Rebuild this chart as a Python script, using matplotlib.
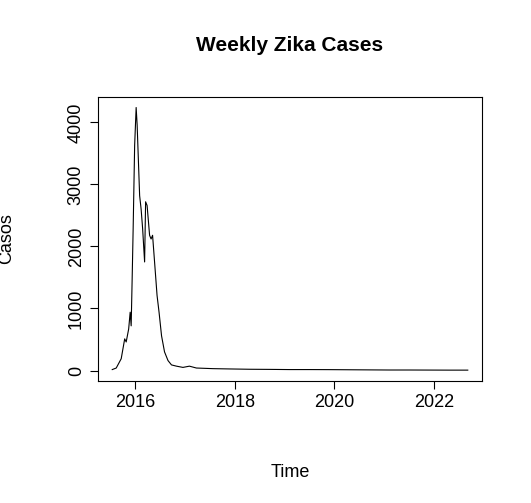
import numpy as np
import matplotlib.pyplot as plt

plt.rcParams['font.family'] = ['Liberation Sans', 'DejaVu Sans']

# readings from the reference: decimal year vs weekly cases
years = [2015.54, 2015.62, 2015.72, 2015.79, 2015.82, 2015.87, 2015.90, 2015.92,
         2015.94, 2015.96, 2015.99, 2016.02, 2016.04, 2016.09, 2016.12, 2016.15,
         2016.19, 2016.21, 2016.24, 2016.29, 2016.32, 2016.35, 2016.39, 2016.44,
         2016.48, 2016.53, 2016.59, 2016.66, 2016.73, 2016.83, 2016.96, 2017.09,
         2017.23, 2017.56, 2017.9, 2018.3, 2018.7, 2019.1, 2019.5, 2019.9,
         2020.3, 2020.7, 2021.1, 2021.5, 2021.9, 2022.3, 2022.68]
cases = [15, 40, 190, 510, 460, 670, 940, 720,
         1480, 2290, 3630, 4240, 3960, 2820, 2600, 2290,
         1750, 2720, 2660, 2180, 2120, 2180, 1750, 1210,
         940, 560, 300, 160, 90, 70, 50, 70,
         40, 30, 25, 20, 18, 15, 15, 14,
         12, 10, 8, 8, 7, 6, 6]

fig = plt.figure(figsize=(5.31, 5.03), dpi=100)
ax = fig.add_axes([0.1846, 0.2425, 0.7231, 0.5647])
ax.plot(years, cases, color='black', linewidth=0.8)

span = years[-1] - years[0]
ax.set_xlim(years[0] - 0.04 * span, years[-1] + 0.04 * span)
ax.set_ylim(-0.04 * max(cases), 1.04 * max(cases))
ax.set_xticks([2016, 2018, 2020, 2022])
ax.set_yticks([0, 1000, 2000, 3000, 4000])
ax.tick_params(labelsize=13, length=6)
for lab in ax.get_yticklabels():
    lab.set_rotation(90)
    lab.set_va('center')
ax.set_title("Weekly Zika Cases", fontsize=15, fontweight='bold', pad=33)
ax.set_xlabel("Time", fontsize=13, labelpad=38)
ax.set_ylabel("Casos", fontsize=13, labelpad=38)

fig.savefig("out.png", dpi=100)
